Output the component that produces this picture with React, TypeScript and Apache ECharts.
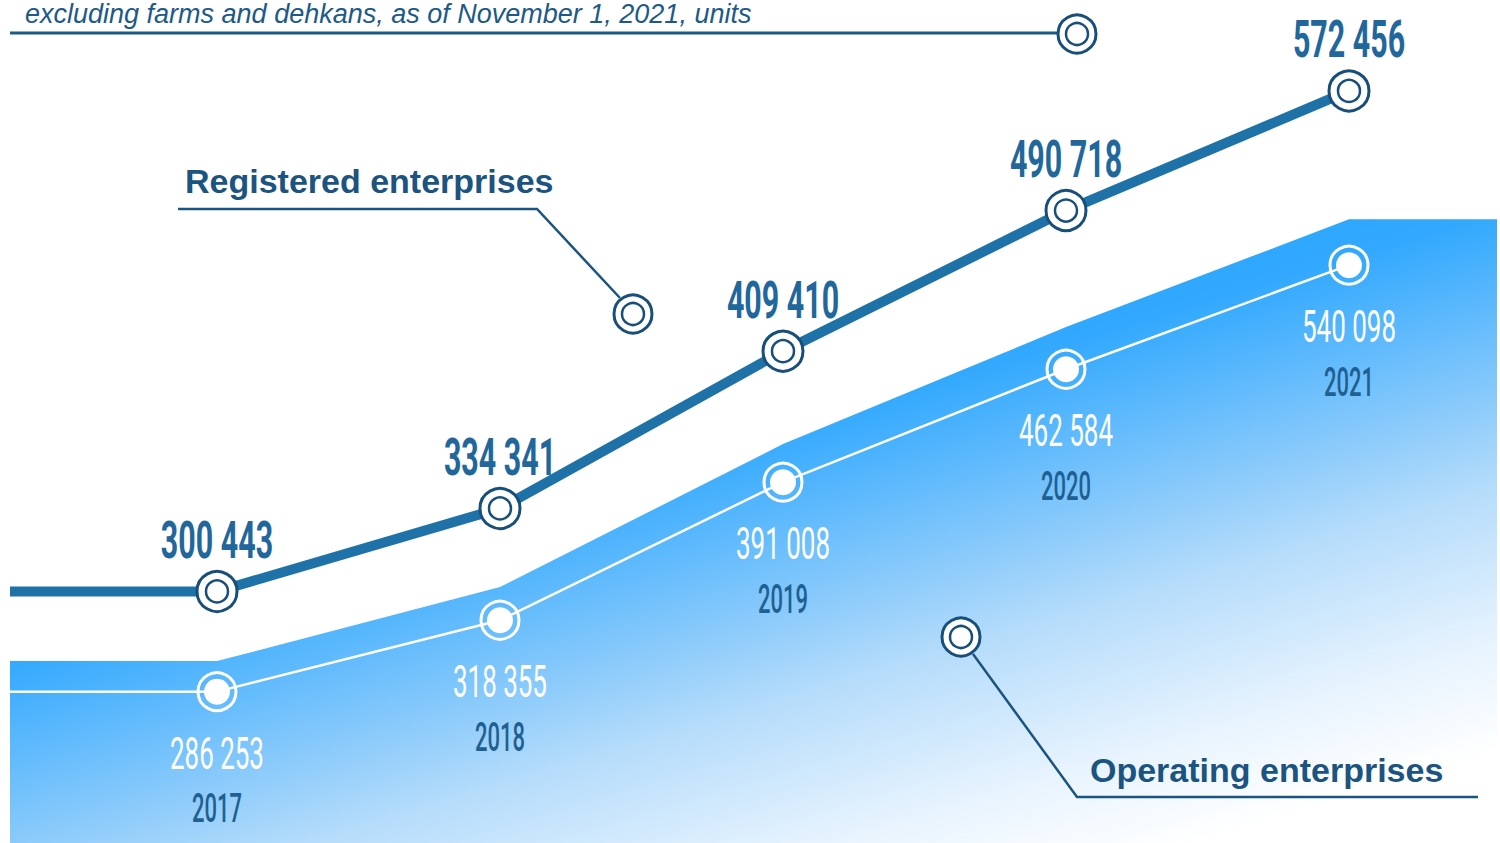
import React, { useEffect, useRef } from "react";
import * as echarts from "echarts";

// ---- data ----
const years = [2017, 2018, 2019, 2020, 2021];
const yearLabels = ["2017", "2018", "2019", "2020", "2021"];
const registered = [300443, 334341, 409410, 490718, 572456];
const operating = [286253, 318355, 391008, 462584, 540098];

const NOTE_TEXT = "excluding farms and dehkans, as of November 1, 2021, units";
const REG_NAME = "Registered enterprises";
const OP_NAME = "Operating enterprises";

// ---- layout (axis ranges, not data) ----
const X_MIN = 2016.2686;
const X_MAX = 2021.523;

const DARK = "#1b5480";
const RING = "#174f7a";
const REG_LINE = "#1f72a8";
const REG_LABEL = "#21679c";
const YEAR_COLOR = "#1f5f91";

const fmt = (v: number) => String(Math.round(v)).replace(/\B(?=(\d{3})+(?!\d))/g, " ");

const ring = (x: number, y: number) => ({
  type: "group",
  x,
  y,
  z: 20,
  children: [
    { type: "circle", z: 20, shape: { cx: 0, cy: 0, r: 19 }, style: { fill: "#fff", stroke: RING, lineWidth: 3 } },
    { type: "circle", z: 21, shape: { cx: 0, cy: 0, r: 11 }, style: { fill: "#fff", stroke: RING, lineWidth: 2.5 } },
  ],
});

export default function App() {
  const ref = useRef<HTMLDivElement>(null);

  useEffect(() => {
    document.body.style.margin = "0";
    if (!ref.current) return;
    const chart = echarts.init(ref.current, null, { renderer: "svg" });

    const regPoints = years.map((y, i) => [y, registered[i]]);
    const opPoints = years.map((y, i) => [y, operating[i]]);

    const regLineData: any[] = [
      { value: [X_MIN, registered[0]], symbol: "none" },
      ...regPoints,
    ];
    const opLineData: any[] = [
      { value: [X_MIN, operating[0]], symbol: "none" },
      ...opPoints,
    ];
    const areaData: any[] = [
      [X_MIN, operating[0]],
      ...opPoints,
      [X_MAX, operating[operating.length - 1]],
    ];

    const gradient = new echarts.graphic.LinearGradient(
      1450,
      195,
      1607,
      718,
      [
        { offset: 0, color: "#2ea7fe" },
        { offset: 0.06, color: "#33a9fe" },
        { offset: 0.386, color: "#8ccbfb" },
        { offset: 0.535, color: "#b5dcfb" },
        { offset: 0.8, color: "#e6f3fe" },
        { offset: 1, color: "#ffffff" },
      ],
      true
    );

    const option: any = {
      animation: false,
      backgroundColor: "#ffffff",
      grid: { left: 10, right: 3, top: 0, bottom: 0 },
      xAxis: [{ type: "value", min: X_MIN, max: X_MAX, show: false }],
      yAxis: [
        { type: "log", min: 217300, max: 643600, show: false },
        { type: "log", min: 228500, max: 801500, show: false },
        { type: "log", min: 220400, max: 740200, show: false },
      ],
      series: [
        {
          type: "line",
          yAxisIndex: 2,
          data: areaData,
          symbol: "none",
          lineStyle: { width: 0 },
          areaStyle: { color: gradient, opacity: 1, origin: "start" },
          z: 1,
          silent: true,
        },
        {
          type: "line",
          yAxisIndex: 1,
          data: opLineData,
          showAllSymbol: true,
          symbol: "circle",
          symbolSize: 38,
          lineStyle: { color: "#ffffff", width: 2.5 },
          itemStyle: { color: "rgba(0,0,0,0)", borderColor: "#ffffff", borderWidth: 3 },
          z: 2,
        },
        {
          type: "scatter",
          yAxisIndex: 1,
          data: opPoints,
          symbol: "circle",
          symbolSize: 26,
          itemStyle: { color: "#ffffff", opacity: 1 },
          z: 3,
        },
        {
          type: "custom",
          yAxisIndex: 1,
          data: opPoints,
          clip: false,
          z: 4,
          renderItem: (params: any, api: any) => {
            const pt = api.coord([api.value(0), api.value(1)]);
            return {
              type: "group",
              children: [
                {
                  type: "text",
                  x: pt[0],
                  y: pt[1] + 62,
                  scaleX: 0.59,
                  style: {
                    text: fmt(api.value(1)),
                    fill: "#ffffff",
                    fontSize: 44,
                    fontFamily: "Roboto",
                    fontWeight: "normal",
                    align: "center",
                    verticalAlign: "middle",
                  },
                },
                {
                  type: "text",
                  x: pt[0],
                  y: pt[1] + 117,
                  scaleX: 0.55,
                  style: {
                    text: yearLabels[params.dataIndex],
                    fill: YEAR_COLOR,
                    fontSize: 40,
                    fontFamily: "Roboto",
                    fontWeight: 500,
                    align: "center",
                    verticalAlign: "middle",
                  },
                },
              ],
            };
          },
        },
        {
          type: "line",
          yAxisIndex: 0,
          data: regLineData,
          showAllSymbol: true,
          symbol: "circle",
          symbolSize: 40,
          lineStyle: { color: REG_LINE, width: 10 },
          itemStyle: { color: "#ffffff", borderColor: RING, borderWidth: 3 },
          z: 5,
        },
        {
          type: "scatter",
          yAxisIndex: 0,
          data: regPoints,
          symbol: "circle",
          symbolSize: 22,
          itemStyle: { color: "#ffffff", borderColor: RING, borderWidth: 2.5, opacity: 1 },
          z: 6,
        },
        {
          type: "custom",
          yAxisIndex: 0,
          data: regPoints,
          clip: false,
          z: 7,
          renderItem: (_params: any, api: any) => {
            const pt = api.coord([api.value(0), api.value(1)]);
            return {
              type: "text",
              x: pt[0],
              y: pt[1] - 52,
              scaleX: 0.585,
              style: {
                text: fmt(api.value(1)),
                fill: REG_LABEL,
                fontSize: 52,
                fontFamily: "Roboto",
                fontWeight: "bold",
                align: "center",
                verticalAlign: "middle",
              },
            };
          },
        },
      ],
      graphic: [
        {
          type: "text",
          x: 25,
          y: 14,
          z: 20,
          style: {
            text: NOTE_TEXT,
            fill: "#1d5a87",
            fontSize: 27,
            fontStyle: "italic",
            fontFamily: "Liberation Sans, Arial, sans-serif",
            verticalAlign: "middle",
            align: "left",
          },
        },
        {
          type: "line",
          z: 20,
          shape: { x1: 10, y1: 33, x2: 1058, y2: 33 },
          style: { stroke: "#1d5a87", lineWidth: 3 },
        },
        ring(1077, 34),
        {
          type: "text",
          x: 185,
          y: 181,
          z: 20,
          style: {
            text: REG_NAME,
            fill: DARK,
            fontSize: 34,
            fontWeight: "bold",
            fontFamily: "Liberation Sans, Arial, sans-serif",
            verticalAlign: "middle",
            align: "left",
          },
        },
        {
          type: "polyline",
          z: 20,
          shape: { points: [[178, 209], [537, 209], [620, 298]] },
          style: { stroke: DARK, lineWidth: 2.5, fill: "none" },
        },
        ring(633, 314),
        {
          type: "text",
          x: 1090,
          y: 770,
          z: 20,
          style: {
            text: OP_NAME,
            fill: DARK,
            fontSize: 34,
            fontWeight: "bold",
            fontFamily: "Liberation Sans, Arial, sans-serif",
            verticalAlign: "middle",
            align: "left",
          },
        },
        {
          type: "polyline",
          z: 20,
          shape: { points: [[1478, 797], [1077, 797], [973, 654]] },
          style: { stroke: DARK, lineWidth: 2.5, fill: "none" },
        },
        ring(961, 637),
      ],
    };

    chart.setOption(option);
    return () => chart.dispose();
  }, []);

  return <div ref={ref} style={{ width: 1500, height: 843 }} />;
}
